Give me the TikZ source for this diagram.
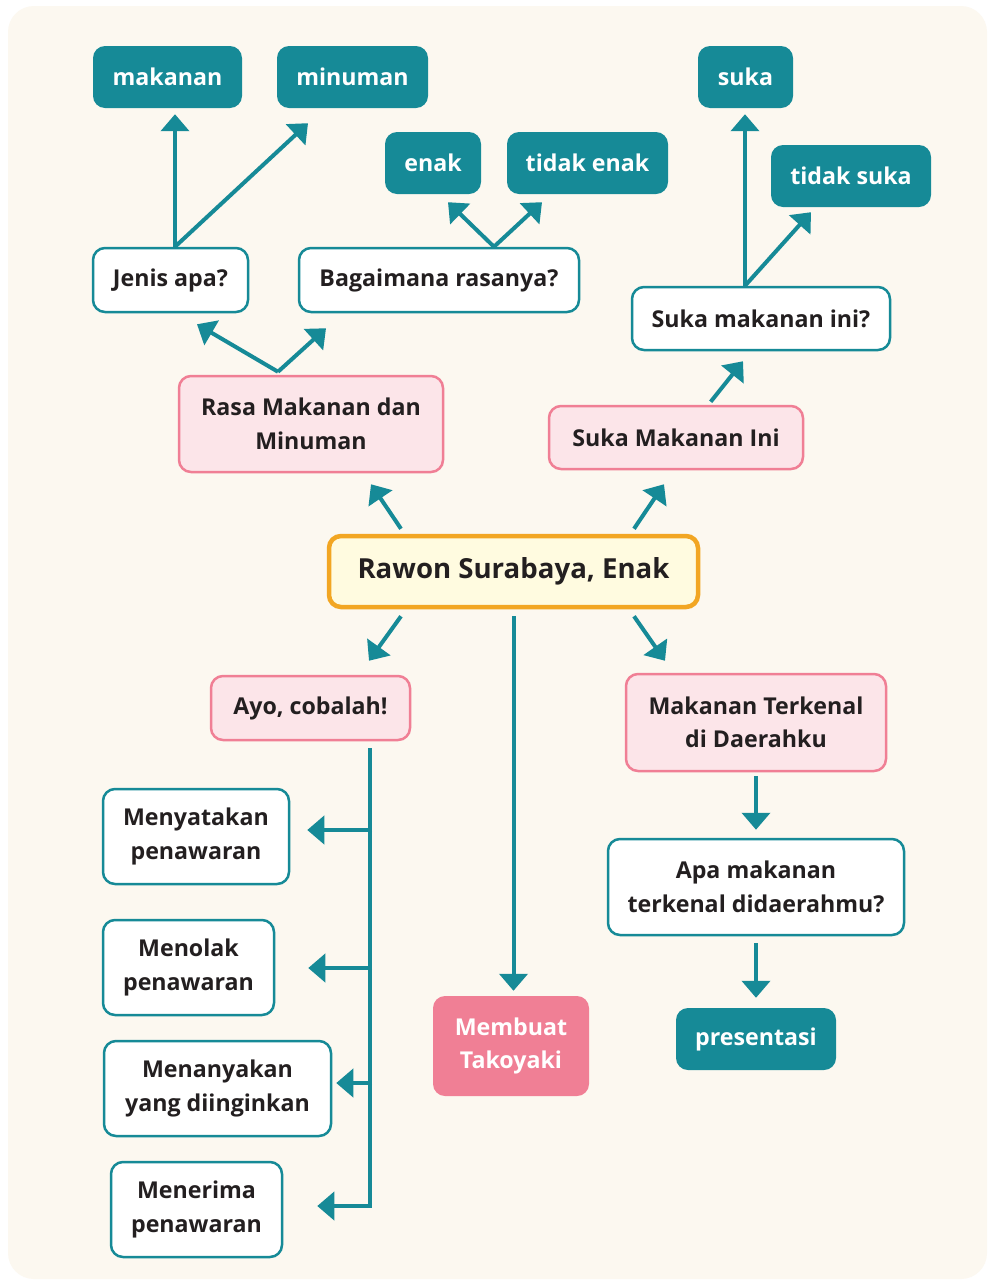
\documentclass[tikz,border=0pt]{standalone}
\usepackage{fontspec}
\setmainfont{Open Sans}
\usetikzlibrary{arrows.meta,calc}
\definecolor{tealc}{HTML}{168A97}
\definecolor{cream}{HTML}{FCF8F0}
\definecolor{pinkfill}{HTML}{FCE5E9}
\definecolor{pinkline}{HTML}{F07F95}
\definecolor{orangeline}{HTML}{F2A623}
\definecolor{yellowfill}{HTML}{FFFBE0}
\definecolor{textdark}{HTML}{231F20}
\tikzset{
  box/.style={rounded corners=12pt, align=center, inner sep=0pt, text=textdark,
    font=\fontsize{23.2}{33.5}\selectfont\bfseries},
  tealbox/.style={box, fill=tealc, text=white},
  whitebox/.style={box, fill=white, draw=tealc, line width=2.5pt},
  pinkbox/.style={box, fill=pinkfill, draw=pinkline, line width=2.5pt},
  hotbox/.style={box, fill=pinkline, text=white},
  mainbox/.style={box, fill=yellowfill, draw=orangeline, line width=4.5pt,
    font=\fontsize{27.6}{33}\selectfont\bfseries},
  arr/.style={draw=tealc, line width=4pt, -{Triangle[width=28pt,length=17pt]}},
}
\begin{document}
\begin{tikzpicture}[x=1pt,y=-1pt]
\useasboundingbox (0,0) rectangle (988,1280);
\fill[white] (0,0) rectangle (988,1280);
\fill[cream, rounded corners=26pt] (8,6) rectangle (987,1279);

% nodes
\node[tealbox, minimum width=149, minimum height=62] (makanan) at (167.5,77) {makanan};
\node[tealbox, minimum width=151, minimum height=62] (minuman) at (352.5,77) {minuman};
\node[tealbox, minimum width=96, minimum height=62] (enak) at (433,163) {enak};
\node[tealbox, minimum width=161, minimum height=62] (tidakenak) at (587.5,163) {tidak enak};
\node[tealbox, minimum width=95, minimum height=62] (suka) at (745.5,77) {suka};
\node[tealbox, minimum width=160, minimum height=62] (tidaksuka) at (851,176) {tidak suka};

\node[whitebox, minimum width=155, minimum height=64] (jenis) at (170.5,280) {Jenis apa?};
\node[whitebox, minimum width=280, minimum height=64] (bag) at (439,280) {Bagaimana rasanya?};
\node[whitebox, minimum width=258, minimum height=63] (sukaq) at (761,318.5) {Suka makanan ini?};

\node[pinkbox, minimum width=264, minimum height=96] (rasa) at (311,424) {Rasa Makanan dan\\Minuman};
\node[pinkbox, minimum width=254, minimum height=63] (sukaini) at (676,437.5) {Suka Makanan Ini};

\node[mainbox, minimum width=369, minimum height=71] (rawon) at (513.5,571.5) {Rawon Surabaya, Enak};

\node[pinkbox, minimum width=199, minimum height=64] (ayo) at (310.5,708) {Ayo, cobalah!};
\node[pinkbox, minimum width=260, minimum height=97] (mt) at (756,722.5) {Makanan Terkenal\\di Daerahku};
\node[whitebox, minimum width=296, minimum height=96] (apa) at (756,887) {Apa makanan\\terkenal didaerahmu?};
\node[tealbox, minimum width=160, minimum height=62] (pres) at (756,1039) {presentasi};
\node[hotbox, minimum width=156, minimum height=100] (membuat) at (511,1046) {Membuat\\Takoyaki};

\node[whitebox, minimum width=186, minimum height=95] (nyatakan) at (196,836.5) {Menyatakan\\penawaran};
\node[whitebox, minimum width=171, minimum height=95] (tolak) at (188.5,967.5) {Menolak\\penawaran};
\node[whitebox, minimum width=227, minimum height=95] (tanya) at (217.5,1088.5) {Menanyakan\\yang diinginkan};
\node[whitebox, minimum width=171, minimum height=95] (terima) at (196.5,1209.5) {Menerima\\penawaran};

% connectors top-left
\draw[arr] ([xshift=4.5pt]jenis.north) -- ([xshift=7.5pt,yshift=-6pt]makanan.south);
\draw[arr] ([xshift=4.5pt]jenis.north) -- ([xshift=-44.5pt,yshift=-15pt]minuman.south);
\draw[arr] ([xshift=55pt]bag.north) -- ([xshift=15pt,yshift=-8pt]enak.south);
\draw[arr] ([xshift=55pt]bag.north) -- ([xshift=-45.5pt,yshift=-8pt]tidakenak.south);
% top-right
\draw[arr] ([xshift=-16pt]sukaq.north) -- ([xshift=-0.5pt,yshift=-6pt]suka.south);
\draw[arr] ([xshift=-16pt]sukaq.north) -- ([xshift=-40pt,yshift=-5pt]tidaksuka.south);
\draw[arr] ([xshift=34.7pt,yshift=3pt]sukaini.north) -- ([xshift=-18pt,yshift=-10pt]sukaq.south);
% rasa
\draw[arr] ([xshift=-33pt,yshift=3pt]rasa.north) -- ([xshift=26.5pt,yshift=-11pt]jenis.south);
\draw[arr] ([xshift=-33pt,yshift=3pt]rasa.north) -- ([xshift=-113pt,yshift=-15pt]bag.south);
% rawon
\draw[arr] ([xshift=-112.5pt,yshift=5pt]rawon.north) -- ([xshift=60pt,yshift=-11pt]rasa.south);
\draw[arr] ([xshift=120.5pt,yshift=5pt]rawon.north) -- ([xshift=-12pt,yshift=-14pt]sukaini.south);
\draw[arr] ([xshift=-112.5pt,yshift=-7pt]rawon.south) -- ([xshift=58.5pt,yshift=14pt]ayo.north);
\draw[arr] ([xshift=120.5pt,yshift=-7pt]rawon.south) -- ([xshift=-91pt,yshift=12pt]mt.north);
\draw[arr] ([yshift=-7pt]rawon.south) -- ([xshift=2.5pt,yshift=5pt]membuat.north);
% right column
\draw[arr] ([yshift=-4pt]mt.south) -- ([yshift=8pt]apa.north);
\draw[arr] ([yshift=-7pt]apa.south) -- ([yshift=10pt]pres.north);
% ayo trunk
\draw[arr] ([xshift=59.5pt,yshift=-7pt]ayo.south) |- ([xshift=34pt,yshift=3.5pt]terima.east);
\coordinate (j1) at (372,830);
\coordinate (j2) at (372,968);
\coordinate (j3) at (372,1083);
\draw[arr] (j1) -- ([xshift=17pt]nyatakan.east |- j1);
\draw[arr] (j2) -- ([xshift=33pt]tolak.east |- j2);
\draw[arr] (j3) -- ([xshift=4pt]tanya.east |- j3);
\end{tikzpicture}
\end{document}
